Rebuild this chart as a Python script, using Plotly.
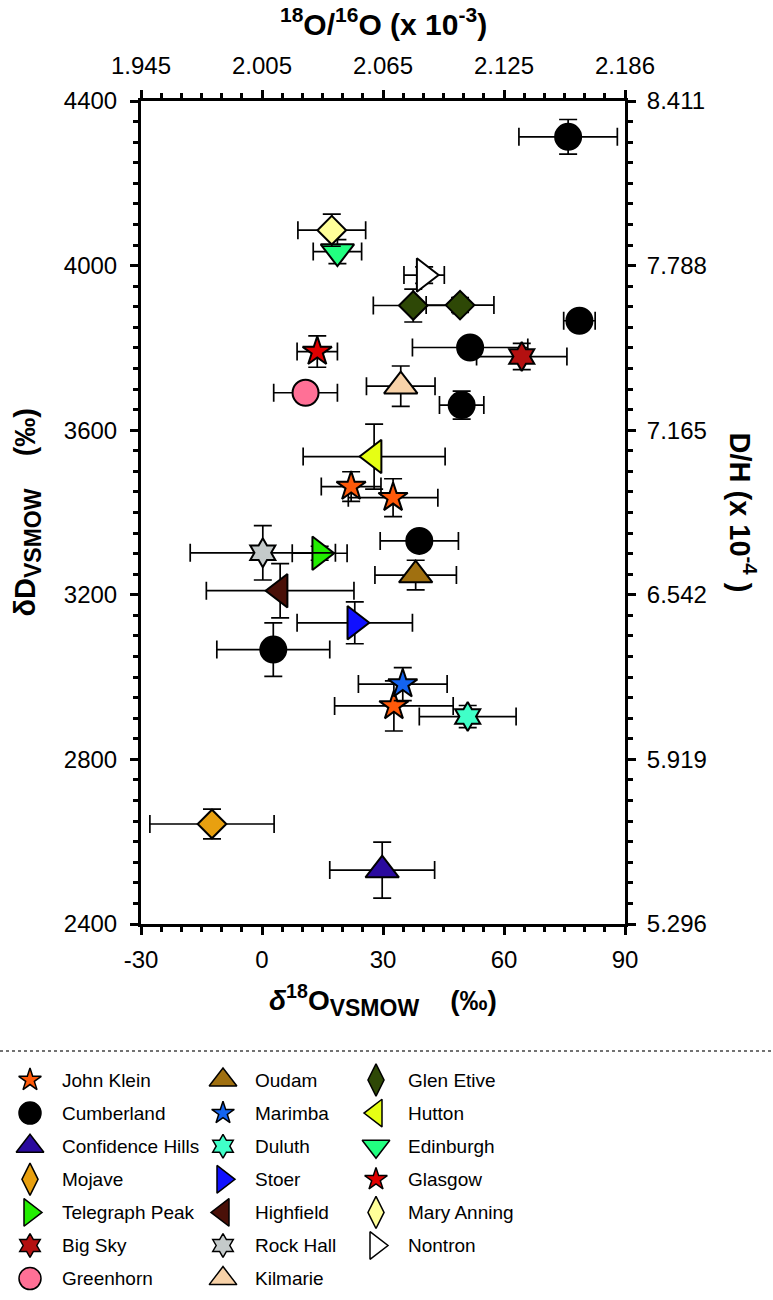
import plotly.graph_objects as go

W, H = 773, 1300
FONT = "Liberation Sans, Arial, Helvetica, sans-serif"

# ---------------- data ----------------
names = ["John Klein", "Cumberland", "Confidence Hills", "Mojave", "Telegraph Peak",
         "Big Sky", "Greenhorn", "Oudam", "Marimba", "Duluth", "Stoer", "Highfield",
         "Rock Hall", "Kilmarie", "Glen Etive", "Hutton", "Edinburgh", "Glasgow",
         "Mary Anning", "Nontron"]

symbols = ["star", "circle", "triangle-up", "diamond", "triangle-right",
           "hexagram", "circle", "triangle-up", "star", "hexagram", "triangle-right",
           "triangle-left", "hexagram", "triangle-up", "diamond", "triangle-left",
           "triangle-down", "star", "diamond", "triangle-right"]

colors = ["#FF5A0A", "#000000", "#2A0A9E", "#E8A010", "#22EE00",
          "#B41010", "#FF7096", "#A07010", "#1464F0", "#40FFC8", "#1010FF",
          "#4A1008", "#C4CACA", "#F8D2A8", "#2E4806", "#E6FF14",
          "#22FF80", "#E00000", "#FFFF99", "#FFFFFF"]

d18O = [[22.1, 32.5, 32.7], [75.9, 78.7, 51.6, 49.5, 39.0, 2.8], [29.8], [-12.4], [14.3],
        [64.4], [10.8], [38.1], [34.9], [51.0], [23.0], [4.5],
        [0.2], [34.4], [37.5, 49.1], [27.8], [18.7], [13.7], [17.3], [40.2]]
dD = [[3463, 3436, 2930], [4313, 3866, 3801, 3661, 3331, 3067], [2531], [2643], [3301],
      [3779], [3691], [3248], [2983], [2904], [3132], [3210],
      [3302], [3707], [3903, 3904], [3536], [4034], [3791], [4086], [3977]]
d18O_err = [[7.4, 11.1, 14.7], [12.2, 3.9, 14.3, 5.5, 9.7, 14.0], [13.0], [15.4], [6.8],
            [11.2], [7.9], [10.1], [11.0], [12.0], [14.3], [18.3],
            [18.0], [8.5], [9.9, 8.4], [17.6], [6.0], [5.0], [8.4], [5.0]]
dD_err = [[36, 46, 61], [42, 15, 10, 34, 10, 65], [68], [36], [17],
          [32], [10], [36], [40], [27], [51], [66],
          [66], [49], [40, 18], [79], [29], [38], [39], [20]]

x_ticks = [-30, 0, 30, 60, 90]
x_tick_text = ["-30", "0", "30", "60", "90"]
y_ticks = [2400, 2800, 3200, 3600, 4000, 4400]
top_tick_text = ["1.945", "2.005", "2.065", "2.125", "2.186"]
right_tick_text = ["5.296", "5.919", "6.542", "7.165", "7.788", "8.411"]

# ---------------- layout constants ----------------
PL, PR, PT, PB = 141, 625, 101, 924
LEG_TOP = 1055
sizes = {"circle": 26, "star": 22, "hexagram": 22, "diamond": 22,
         "triangle-up": 29, "triangle-down": 29, "triangle-left": 29, "triangle-right": 29}
leg_symbols = {"diamond": "diamond-tall"}
leg_sizes = {"circle": 22, "star": 17, "hexagram": 18, "diamond-tall": 23,
             "triangle-up": 24, "triangle-down": 24, "triangle-left": 24, "triangle-right": 24}

fig = go.Figure()

for i, n in enumerate(names):
    fig.add_trace(go.Scatter(
        x=d18O[i], y=dD[i], mode="markers", name=n, showlegend=False,
        marker=dict(symbol=symbols[i], size=sizes[symbols[i]], color=colors[i],
                    line=dict(color="black", width=2)),
        error_x=dict(type="data", array=d18O_err[i], visible=True, color="black",
                     thickness=1.7, width=9),
        error_y=dict(type="data", array=dD_err[i], visible=True, color="black",
                     thickness=1.7, width=9),
        xaxis="x", yaxis="y"))

# legend drawn in its own subplot (3 columns, 7 rows, column-major)
col_marker_x = [30, 223, 376]
col_text_x = [60, 253, 406]
row_y0, row_dy = 1080, 33.1
for i, n in enumerate(names):
    c, r = divmod(i, 7)
    ls = leg_symbols.get(symbols[i], symbols[i])
    fig.add_trace(go.Scatter(
        x=[col_marker_x[c]], y=[row_y0 + r * row_dy], mode="markers", showlegend=False,
        marker=dict(symbol=ls, size=leg_sizes[ls], color=colors[i],
                    line=dict(color="black", width=1.5)),
        hoverinfo="skip", xaxis="x3", yaxis="y3"))
    fig.add_annotation(x=col_text_x[c], y=row_y0 + r * row_dy, xref="x3", yref="y3",
                       text=n, showarrow=False, xanchor="left", yanchor="middle",
                       font=dict(family=FONT, size=19, color="black"))

axis_common = dict(showgrid=False, zeroline=False, showline=True, linewidth=3,
                   linecolor="black", ticks="outside", ticklen=8, tickwidth=2.5,
                   tickcolor="black", automargin=False,
                   tickfont=dict(family=FONT, size=24, color="black"))
minor_x = dict(dtick=5, ticklen=5, tickwidth=2.5, ticks="outside", tickcolor="black")
minor_y = dict(dtick=50, ticklen=5, tickwidth=2.5, ticks="outside", tickcolor="black")

xdom = [PL / W, PR / W]
ydom = [1 - PB / H, 1 - PT / H]

fig.update_layout(
    template="none",
    width=W, height=H, margin=dict(l=0, r=0, t=0, b=0, pad=0, autoexpand=False),
    paper_bgcolor="white", plot_bgcolor="white", showlegend=False,
    font=dict(family=FONT, color="black"),
    xaxis=dict(domain=xdom, anchor="y", range=[-30, 90], tickvals=x_ticks,
               ticktext=x_tick_text, minor=minor_x, ticklabelstandoff=4, **axis_common),
    xaxis2=dict(domain=xdom, anchor="y", overlaying="x", side="top", range=[-30, 90],
                tickvals=x_ticks, ticktext=top_tick_text, minor=minor_x,
                ticklabelstandoff=6, **axis_common),
    yaxis=dict(domain=ydom, anchor="x", range=[2400, 4400], tickvals=y_ticks,
               minor=minor_y, ticklabelstandoff=8, **axis_common),
    yaxis2=dict(domain=ydom, anchor="x", overlaying="y", side="right", range=[2400, 4400],
                tickvals=y_ticks, ticktext=right_tick_text, minor=minor_y,
                ticklabelstandoff=6, **axis_common),
    xaxis3=dict(domain=[0, 1], anchor="y3", range=[0, W], visible=False,
                fixedrange=True, automargin=False),
    yaxis3=dict(domain=[0, (H - LEG_TOP) / H], anchor="x3", range=[H, LEG_TOP],
                visible=False, fixedrange=True, automargin=False),
)

# empty trace to bind the secondary axes
fig.add_trace(go.Scatter(x=[], y=[], xaxis="x2", yaxis="y2", showlegend=False))

SUB = '<span style="font-size:23px">{}</span>'
NB = "\u00a0" * 4
# axis titles
fig.add_annotation(x=(PL + PR) / 2 / W, y=1 - 22 / H, xref="paper", yref="paper",
                   text="<b><sup>18</sup>O/<sup>16</sup>O (x 10<sup>-3</sup>)</b>",
                   showarrow=False, xanchor="center", yanchor="middle",
                   font=dict(family=FONT, size=30, color="black"))
fig.add_annotation(x=(PL + PR) / 2 / W, y=1 - 1000 / H, xref="paper", yref="paper",
                   text="<b><i>δ</i><sup>18</sup>O<sub>" + SUB.format("VSMOW")
                        + "</sub>" + NB + "(‰)</b>",
                   showarrow=False, xanchor="center", yanchor="middle",
                   font=dict(family=FONT, size=28, color="black"))
fig.add_annotation(x=27 / W, y=1 - (PT + PB) / 2 / H, xref="paper", yref="paper",
                   text="<b>δD<sub>" + SUB.format("VSMOW") + "</sub>" + NB + "(‰)</b>",
                   textangle=-90,
                   showarrow=False, xanchor="center", yanchor="middle",
                   font=dict(family=FONT, size=29, color="black"))
fig.add_annotation(x=742 / W, y=1 - (PT + PB) / 2 / H, xref="paper", yref="paper",
                   text="<b>D/H (x 10<sup>-4</sup> )</b>", textangle=90,
                   showarrow=False, xanchor="center", yanchor="middle",
                   font=dict(family=FONT, size=29, color="black"))

# dotted separator above legend
fig.add_shape(type="line", xref="paper", yref="paper", x0=0, x1=1,
              y0=1 - 1051 / H, y1=1 - 1051 / H,
              line=dict(color="#444444", width=1.3, dash="dot"))

fig.write_html("out.html")
